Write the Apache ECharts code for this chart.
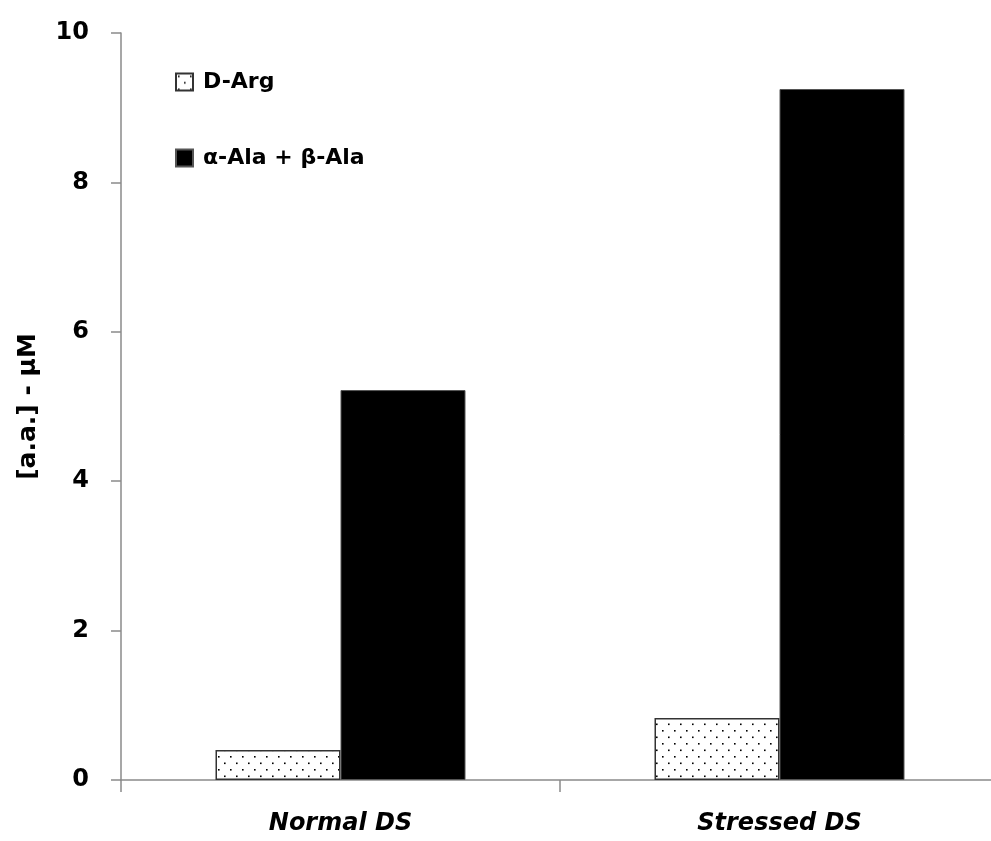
<!DOCTYPE html>
<html><head><meta charset="utf-8">
<script src="https://cdn.jsdelivr.net/npm/echarts@6/dist/echarts.min.js"></script>
<style>html,body{margin:0;padding:0;background:#fff}#c{width:991px;height:841px}</style>
</head><body><div id="c"></div>
<script>
const categories = ['Normal DS', 'Stressed DS'];
const dArg = [0.40, 0.83];
const alaSum = [5.22, 9.25];
const yTicks = [0, 2, 4, 6, 8, 10];

function dotPattern() {
  const c = document.createElement('canvas');
  c.width = 12; c.height = 13;
  const g = c.getContext('2d');
  g.fillStyle = '#fff'; g.fillRect(0, 0, 12, 13);
  g.fillStyle = '#000';
  g.fillRect(2, 2, 1.6, 1.6);
  g.fillRect(8, 8.5, 1.6, 1.6);
  return c;
}

const font = '"DejaVu Sans", sans-serif';
const chart = echarts.init(document.getElementById('c'));
chart.setOption({
  backgroundColor: '#fff',
  animation: false,
  grid: { left: 121, width: 878, top: 33, bottom: 61, containLabel: false, outerBoundsMode: 'none' },
  legend: {
    orient: 'vertical', left: 170, top: 66, itemGap: 54,
    itemWidth: 17, itemHeight: 17,
    textStyle: { fontFamily: font, fontWeight: 'bold', fontSize: 22, color: '#000', padding: [0, 0, 3, 5] },
    data: [
      { name: 'D-Arg', icon: 'rect' },
      { name: 'α-Ala + β-Ala', icon: 'rect' }
    ]
  },
  xAxis: {
    type: 'category', data: categories,
    axisLine: { lineStyle: { color: '#8a8a8a', width: 1.5 } },
    axisTick: { show: true, length: 12, lineStyle: { color: '#8a8a8a', width: 1.5 } },
    axisLabel: { margin: 32, fontFamily: font, fontWeight: 'bold', fontStyle: 'italic', fontSize: 24, color: '#000' }
  },
  yAxis: {
    type: 'value', min: yTicks[0], max: yTicks[yTicks.length - 1], interval: 2,
    name: '[a.a.] - µM', nameLocation: 'middle', nameGap: 80, nameRotate: 90,
    nameTextStyle: { fontFamily: font, fontWeight: 'bold', fontSize: 25, color: '#000' },
    splitLine: { show: false },
    axisLine: { show: true, lineStyle: { color: '#8a8a8a', width: 1.5 } },
    axisTick: { show: true, length: 10, lineStyle: { color: '#8a8a8a', width: 1.5 } },
    axisLabel: { margin: 32, fontFamily: font, fontWeight: 'bold', fontSize: 24, color: '#000' }
  },
  series: [
    {
      name: 'D-Arg', type: 'bar', data: dArg, barWidth: 125, barGap: '0%',
      itemStyle: { color: { image: dotPattern(), repeat: 'repeat' }, borderColor: '#333', borderWidth: 1.5 }
    },
    {
      name: 'α-Ala + β-Ala', type: 'bar', data: alaSum, barWidth: 125, barGap: '0%',
      itemStyle: { color: '#000', borderColor: '#555', borderWidth: 1 }
    }
  ]
});
</script></body></html>
